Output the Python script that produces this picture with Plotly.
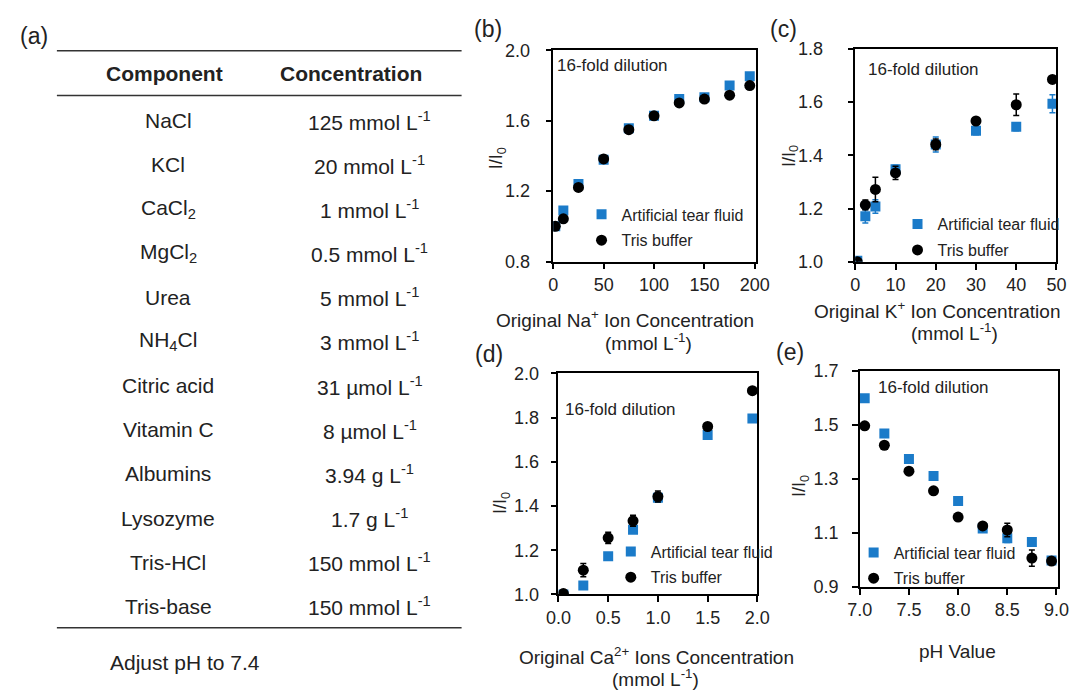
import plotly.graph_objects as go

W, H = 1089, 697
FONT = "Liberation Sans, Arial, sans-serif"
BLUE = "#1b7bc9"

# ---------------- data ----------------
components = ["NaCl", "KCl", "CaCl<sub>2</sub>", "MgCl<sub>2</sub>", "Urea", "NH<sub>4</sub>Cl",
              "Citric acid", "Vitamin C", "Albumins", "Lysozyme", "Tris-HCl", "Tris-base"]
concentrations = ["125 mmol L<sup>-1</sup>", "20 mmol L<sup>-1</sup>", "1 mmol L<sup>-1</sup>",
                  "0.5 mmol L<sup>-1</sup>", "5 mmol L<sup>-1</sup>", "3 mmol L<sup>-1</sup>",
                  "31 µmol L<sup>-1</sup>", "8 µmol L<sup>-1</sup>", "3.94 g L<sup>-1</sup>",
                  "1.7 g L<sup>-1</sup>", "150 mmol L<sup>-1</sup>", "150 mmol L<sup>-1</sup>"]

# (b) Na+
na_x = [2, 10, 25, 50, 75, 100, 125, 150, 175, 195]
na_atf = [1.00, 1.09, 1.24, 1.378, 1.557, 1.628, 1.723, 1.734, 1.80, 1.852]
na_tris = [1.00, 1.043, 1.221, 1.383, 1.549, 1.628, 1.701, 1.723, 1.745, 1.80]

# (c) K+
k_x = [0.5, 2.5, 5, 10, 20, 30, 40, 49]
k_atf = [1.004, 1.171, 1.208, 1.348, 1.441, 1.492, 1.507, 1.594]
k_atf_err = [0.01, 0.025, 0.025, 0.015, 0.028, 0.015, 0.015, 0.034]
k_tris = [1.0, 1.214, 1.272, 1.334, 1.441, 1.529, 1.59, 1.685]
k_tris_err = [0.01, 0.018, 0.046, 0.025, 0.02, 0.01, 0.04, 0.008]

# (d) Ca2+
ca_x = [0.05, 0.25, 0.5, 0.75, 1.0, 1.5, 1.95]
ca_atf = [1.0, 1.04, 1.173, 1.293, 1.437, 1.722, 1.796]
ca_atf_err = [0.01, 0.005, 0.005, 0.01, 0.02, 0.005, 0.005]
ca_tris = [1.004, 1.11, 1.256, 1.333, 1.443, 1.76, 1.922]
ca_tris_err = [0.015, 0.03, 0.025, 0.025, 0.025, 0.01, 0.01]

# (e) pH
ph_x = [7.05, 7.25, 7.5, 7.75, 8.0, 8.25, 8.5, 8.75, 8.95]
ph_atf = [1.599, 1.469, 1.374, 1.311, 1.218, 1.117, 1.08, 1.067, 0.998]
ph_atf_err = [0.005, 0.005, 0.005, 0.005, 0.008, 0.005, 0.015, 0.008, 0.005]
ph_tris = [1.497, 1.425, 1.329, 1.256, 1.159, 1.126, 1.111, 1.007, 0.996]
ph_tris_err = [0.005, 0.005, 0.005, 0.005, 0.005, 0.01, 0.025, 0.03, 0.005]


def px(x):
    return x / W


def py(y):
    return 1 - y / H


fig = go.Figure()

panels = [
    ("", na_x, na_atf, None, na_tris, None, "legend"),
    ("2", k_x, k_atf, k_atf_err, k_tris, k_tris_err, "legend2"),
    ("3", ca_x, ca_atf, ca_atf_err, ca_tris, ca_tris_err, "legend3"),
    ("4", ph_x, ph_atf, ph_atf_err, ph_tris, ph_tris_err, "legend4"),
]

for suf, xs, atf, atf_err, tris, tris_err, leg in panels:
    fig.add_trace(go.Scatter(
        x=xs, y=atf, mode="markers", name="Artificial tear fluid",
        xaxis="x" + suf, yaxis="y" + suf, legend=leg, legendgroup="a" + leg,
        marker=dict(symbol="square", size=10, color=BLUE),
        error_y=dict(type="data", array=atf_err, color=BLUE, thickness=1.5, width=3,
                     visible=atf_err is not None),
    ))
    fig.add_trace(go.Scatter(
        x=xs, y=tris, mode="markers", name="Tris buffer",
        xaxis="x" + suf, yaxis="y" + suf, legend=leg, legendgroup="t" + leg,
        marker=dict(symbol="circle", size=11, color="black"),
        error_y=dict(type="data", array=tris_err, color="black", thickness=1.5, width=3,
                     visible=tris_err is not None),
    ))

axis_common = dict(showgrid=False, zeroline=False, showline=True, linecolor="black",
                   linewidth=1.5, mirror=True, ticks="outside", ticklen=6, tickwidth=1.5,
                   tickcolor="black", tickfont=dict(family=FONT, size=18, color="#222"))

geo = {
    "": dict(x0=554, x1=762, y0=41.5, y1=259, xr=[0, 201.3], yr=[0.8, 2.0],
             xd=50, yd=0.4, xf="d", ys=12),
    "2": dict(x0=863.7, x1=1070, y0=40, y1=259.3, xr=[0, 50], yr=[1.0, 1.8],
              xd=10, yd=0.2, xf="d", ys=21),
    "3": dict(x0=559.3, x1=763.3, y0=374.2, y1=601.7, xr=[0, 2], yr=[1.0, 2.0],
              xd=0.5, yd=0.2, xf=".1f", ys=8),
    "4": dict(x0=868.3, x1=1072, y0=371.7, y1=594, xr=[7, 9.02], yr=[0.9, 1.7],
              xd=0.5, yd=0.2, xf=".1f", ys=10),
}

layout = {}
for suf, g in geo.items():
    xa = dict(axis_common)
    xa.update(domain=[px(g["x0"]), px(g["x1"])], range=g["xr"], dtick=g["xd"],
              tick0=g["xr"][0], tickformat=g["xf"], anchor="y" + suf, ticklabelstandoff=0)
    ya = dict(axis_common)
    ya.update(domain=[py(g["y1"]), py(g["y0"])], range=g["yr"], dtick=g["yd"],
              tick0=g["yr"][0], tickformat=".1f", anchor="x" + suf, ticklabelstandoff=g["ys"])
    layout["xaxis" + suf] = xa
    layout["yaxis" + suf] = ya

fig.update_layout(**layout)

leg_pos = {"legend": (583, 193), "legend2": (907, 203), "legend3": (613, 540), "legend4": (862, 541)}
leg_layout = {}
for name, (lx, ly) in leg_pos.items():
    leg_layout[name] = dict(x=px(lx), y=py(ly), xanchor="left", yanchor="top",
                            bgcolor="rgba(0,0,0,0)", borderwidth=0,
                            font=dict(family=FONT, size=16, color="#222"),
                            traceorder="grouped", tracegroupgap=2, itemwidth=30)
fig.update_layout(**leg_layout)

annotations = []


def text(x, y, s, size=17, xanchor="center", yanchor="middle", bold=False, angle=0):
    annotations.append(dict(
        x=px(x), y=py(y), xref="paper", yref="paper", text=("<b>%s</b>" % s) if bold else s,
        showarrow=False, xanchor=xanchor, yanchor=yanchor, textangle=angle,
        font=dict(family=FONT, size=size, color="#222")))


# table (a)
text(22, 27, "(a)", size=23)
text(155, 65, "Component", size=21, bold=True)
text(347, 65, "Concentration", size=21, bold=True)
for i, (c, v) in enumerate(zip(components, concentrations)):
    yy = 114 + 45.45 * i
    text(159, yy, c, size=21)
    text(366, yy, v, size=21)
text(97, 672, "Adjust pH to 7.4", size=21, xanchor="left")

shapes = []
for yy in (42, 88, 636):
    shapes.append(dict(type="line", xref="paper", yref="paper", x0=px(45), x1=px(460),
                       y0=py(yy), y1=py(yy), line=dict(color="#333", width=1.5)))

# panel labels
text(487, 20, "(b)", size=23)
text(790, 20, "(c)", size=23)
text(488, 354, "(d)", size=23)
text(797, 352, "(e)", size=23)

# dilution notes
text(556, 57, "16-fold dilution", size=17, xanchor="left")
text(875, 61, "16-fold dilution", size=17, xanchor="left")
text(564, 411, "16-fold dilution", size=17, xanchor="left")
text(885, 389, "16-fold dilution", size=17, xanchor="left")

# y titles
I0 = "I/I<sub>0</sub>"
text(497, 153, I0, size=18, angle=-90)
text(797, 150, I0, size=18, angle=-90)
text(501, 508, I0, size=18, angle=-90)
text(808, 490, I0, size=18, angle=-90)

# x titles
text(628, 318, "Original Na<sup>+</sup> Ion Concentration", size=19)
text(652, 342, "(mmol L<sup>-1</sup>)", size=19)
text(948, 309, "Original K<sup>+</sup> Ion Concentration", size=19)
text(965, 332, "(mmol L<sup>-1</sup>)", size=19)
text(660, 665, "Original Ca<sup>2+</sup> Ions Concentration", size=19)
text(659, 688, "(mmol L<sup>-1</sup>)", size=19)
text(968, 660, "pH Value", size=19)

fig.update_layout(
    width=W, height=H, margin=dict(l=0, r=0, t=0, b=0),
    paper_bgcolor="white", plot_bgcolor="white",
    annotations=annotations, shapes=shapes,
    font=dict(family=FONT, color="#222"),
)

fig.write_html("out.html")
